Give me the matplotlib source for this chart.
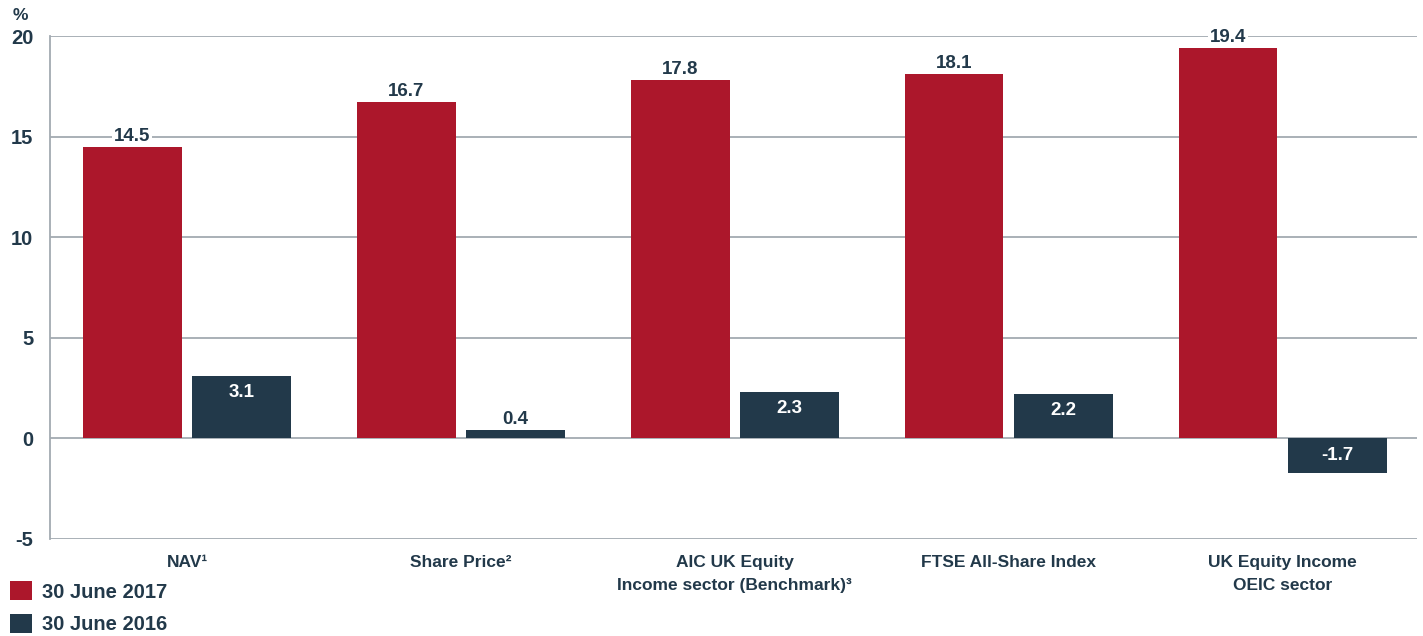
import matplotlib
matplotlib.use("Agg")
import matplotlib.pyplot as plt  # noqa: E402
from matplotlib.patches import Patch  # noqa: E402
import numpy as np  # noqa: E402

categories = [
    "NAV\u00b9",
    "Share Price\u00b2",
    "AIC UK Equity\nIncome sector (Benchmark)\u00b3",
    "FTSE All-Share Index",
    "UK Equity Income\nOEIC sector",
]
june_2017 = [14.5, 16.7, 17.8, 18.1, 19.4]
june_2016 = [3.1, 0.4, 2.3, 2.2, -1.7]
series_labels = ["30 June 2017", "30 June 2016"]
y_ticks = [-5, 0, 5, 10, 15, 20]

RED = "#AC172B"
NAVY = "#22394A"
GRID = "#A3AAB1"

plt.rcParams["font.family"] = ["Liberation Sans", "DejaVu Sans"]
plt.rcParams["font.weight"] = "bold"

fig = plt.figure(figsize=(14.23, 6.36), dpi=100)
ax = fig.add_axes([50 / 1423, 1 - 539 / 636, (1417 - 50) / 1423, (539 - 36) / 636])

x = np.arange(len(categories))
w = 0.361
off = 0.2
ax.bar(x - off, june_2017, w, color=RED, zorder=3)
ax.bar(x + off, june_2016, w, color=NAVY, zorder=3)

for xi, v in zip(x, june_2017):
    ax.annotate(f"{v:.1f}", (xi - off, v), xytext=(0, 1.5), textcoords="offset points",
                ha="center", va="bottom", fontsize=13.5, color=NAVY, zorder=4,
                bbox=dict(facecolor="white", edgecolor="none", pad=1.5))

for xi, v in zip(x, june_2016):
    if v > 1:
        ax.annotate(f"{v:.1f}", (xi + off, v), xytext=(0, -11.5), textcoords="offset points",
                    ha="center", va="center", fontsize=13.5, color="white", zorder=4)
    elif v < 0:
        ax.annotate(f"{v:.1f}", (xi + off, v / 2), ha="center", va="center",
                    fontsize=13.5, color="white", zorder=4)
    else:
        ax.annotate(f"{v:.1f}", (xi + off, v), xytext=(0, 1.5), textcoords="offset points",
                    ha="center", va="bottom", fontsize=13.5, color=NAVY, zorder=4)

ax.set_xlim(-0.5, 4.49)
ax.set_ylim(-5, 20)
ax.set_yticks(y_ticks)
ax.set_yticklabels([str(t) for t in y_ticks])
ax.set_xticks(x)
ax.set_xticklabels(categories, fontsize=12.5, color=NAVY, linespacing=1.7)
ax.tick_params(axis="x", length=0, pad=11.5)
ax.tick_params(axis="y", length=0, pad=12, labelsize=14.5, labelcolor=NAVY)

ax.grid(axis="y", color=GRID, linewidth=1.3, zorder=0)
for side in ["top", "right", "bottom"]:
    ax.spines[side].set_visible(False)
ax.spines["left"].set_color(GRID)
ax.spines["left"].set_linewidth(1.3)

fig.text(20 / 1423, 1 - 16 / 636, "%", ha="center", va="center", fontsize=12.5, color=NAVY)

handles = [Patch(facecolor=RED), Patch(facecolor=NAVY)]
fig.legend(handles, series_labels, loc="upper left", bbox_to_anchor=(0.0, 1 - 571 / 636),
           frameon=False, fontsize=14.5, handlelength=1.1, handleheight=1.1,
           handletextpad=0.5, labelspacing=0.6, borderpad=0.3, borderaxespad=0.2,
           labelcolor=NAVY)

fig.savefig("out.png", dpi=100)
